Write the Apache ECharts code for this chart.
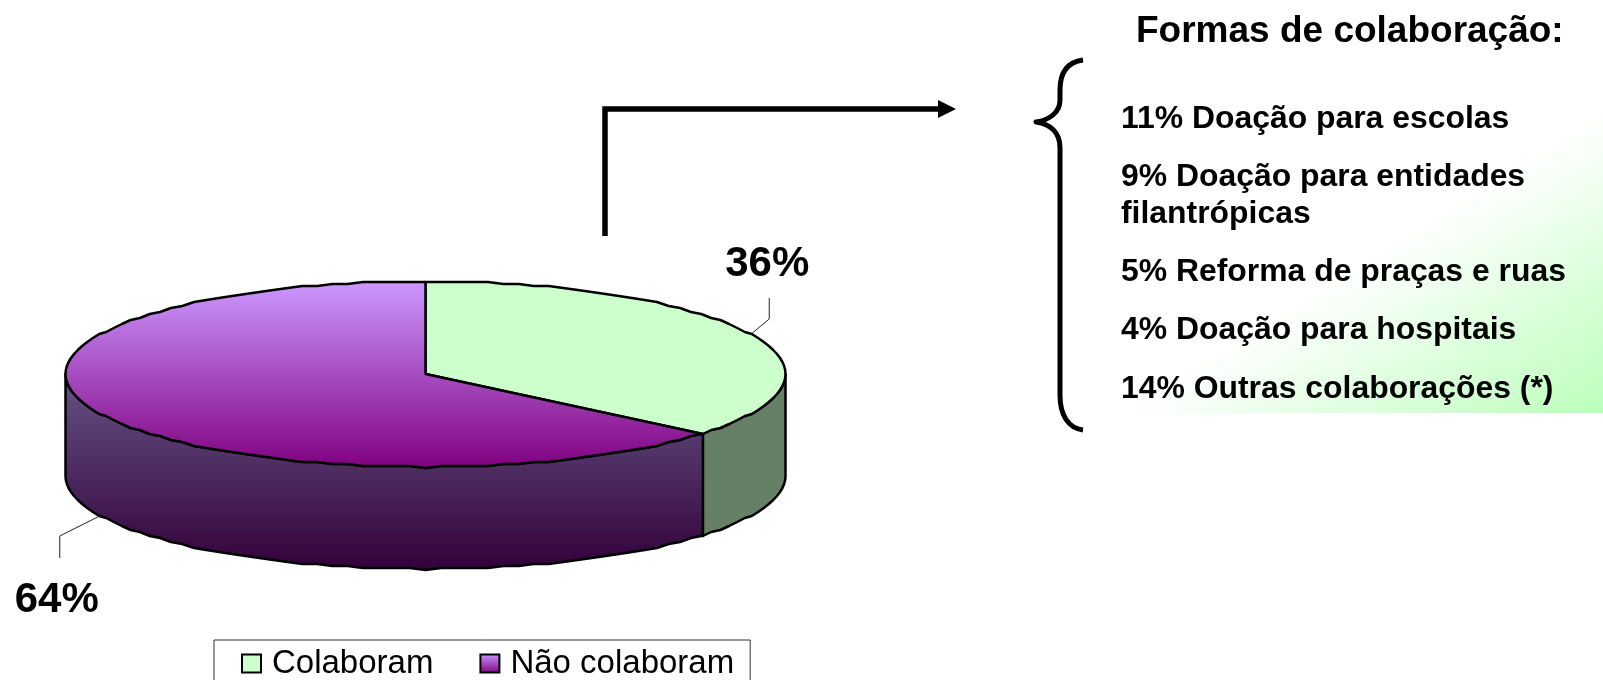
<!DOCTYPE html>
<html>
<head>
<meta charset="utf-8">
<title>Formas de colaboração</title>
<script src="https://cdn.jsdelivr.net/npm/echarts@6/dist/echarts.min.js"></script>
<style>
  html, body { margin: 0; padding: 0; background: #fff; }
  #chart { width: 1603px; height: 680px; }
</style>
</head>
<body>
<div id="chart"></div>
<script>
const categorias = ["Colaboram", "Não colaboram"];
const valores = [36, 64];
const formasPct = [11, 9, 5, 4, 14];
const formasTexto = [
  "Doação para escolas",
  "Doação para entidades\nfilantrópicas",
  "Reforma de praças e ruas",
  "Doação para hospitais",
  "Outras colaborações (*)"
];
const formasTopo = [101, 159, 254, 312, 371];
const tituloFormas = "Formas de colaboração:";

const FONT = '"Liberation Sans", Arial, sans-serif';
const cx = 425.5, cy = 374, rx = 360, ry = 93, depth = 102;
const total = valores[0] + valores[1];

const topPurple = [{ offset: 0, color: "#CC99FF" }, { offset: 1, color: "#800080" }];
const wallPurple = [{ offset: 0, color: "#665585" }, { offset: 1, color: "#33003A" }];
const grad = (stops) => new echarts.graphic.LinearGradient(0, 0, 0, 1, stops);

// angulo medido a partir do topo, sentido horario
const ponto = (deg, dy = 0) => {
  const a = (deg * Math.PI) / 180;
  const x = cx + rx * Math.sin(a);
  const y = cy - ry * Math.cos(a);
  // contorno levemente serrilhado, preso a uma grade de 2px
  return [x, Math.round(y / 2) * 2 + dy];
};

// passo fixo de angulo para a fatia e a parede terem o mesmo contorno
const PASSO = 2.5;
const arco = (from, to, dy = 0) => {
  const sobe = to > from;
  const lo = Math.min(from, to), hi = Math.max(from, to);
  const angs = [lo];
  for (let d = Math.ceil(lo / PASSO) * PASSO; d < hi; d += PASSO) if (d > lo) angs.push(d);
  angs.push(hi);
  if (!sobe) angs.reverse();
  return angs.map((d) => ponto(d, dy));
};

// leader: deslocamentos do cotovelo e do fim da linha em relacao a fatia
const leader = [
  { wall: 0, elbow: [18, -15], end: [18, -36], text: [16, -70] },
  { wall: depth, elbow: [-40, 20], end: [-40, 42], text: [-43, 84] }
];

function renderSlice(idx) {
  return function (params, api) {
    const value = api.value(0);
    const start = idx === 0 ? 0 : (valores[0] / total) * 360;
    const end = start + (value / total) * 360;
    const mid = (start + end) / 2;
    const children = [];

    // parede lateral, so a parte da frente (90 a 270 graus)
    const wa = Math.max(start, 90), wb = Math.min(end, 270);
    if (wb > wa) {
      children.push({
        type: "polygon",
        shape: { points: arco(wa, wb).concat(arco(wb, wa, depth)) },
        style: {
          fill: idx === 0 ? "#668066" : grad(wallPurple),
          stroke: "#000", lineWidth: 2.5, lineJoin: "round"
        }
      });
    }

    // fatia de cima
    children.push({
      type: "polygon",
      shape: { points: [[cx, cy]].concat(arco(start, end)) },
      style: {
        fill: idx === 0 ? "#CCFFCC" : grad(topPurple),
        stroke: "#000", lineWidth: 2.5, lineJoin: "round"
      }
    });

    const l = leader[idx];
    const p = ponto(mid, l.wall);
    children.push({
      type: "polyline",
      shape: { points: [p, [p[0] + l.elbow[0], p[1] + l.elbow[1]], [p[0] + l.end[0], p[1] + l.end[1]]] },
      style: { fill: null, stroke: "#222", lineWidth: 1 }
    });
    children.push({
      type: "text",
      x: p[0] + l.text[0],
      y: p[1] + l.text[1],
      style: {
        text: value + "%", fill: "#000",
        font: "bold 42px " + FONT,
        textAlign: "center", textVerticalAlign: "middle"
      }
    });
    return { type: "group", children };
  };
}

// a chave nao e aceita como path no componente graphic
function renderChave() {
  return {
    type: "path",
    shape: {
      pathData: "M1083 60 C1068 62 1060 72 1060 90 L1060 100 C1060 112 1050 120 1036 122 C1050 124 1060 132 1060 148 L1060 395 C1060 415 1068 428 1083 430",
      x: 1036, y: 58, width: 47, height: 374
    },
    style: { fill: null, stroke: "#000", lineWidth: 5, lineJoin: "round" }
  };
}

const chart = echarts.init(document.getElementById("chart"), null, { renderer: "canvas" });

const formasGraphic = formasPct.map((pct, i) => ({
  type: "text",
  x: 1121,
  y: formasTopo[i],
  z: 5,
  style: {
    text: pct + "% " + formasTexto[i],
    fill: "#000",
    font: "bold 31.9px " + FONT,
    lineHeight: 37
  }
}));

const series = categorias.map((name, i) => ({
  name,
  type: "custom",
  coordinateSystem: "none",
  renderItem: renderSlice(i),
  itemStyle: { color: i === 0 ? "#CCFFCC" : "#800080" },
  data: [[valores[i]]],
  silent: true
}));
series.push({
  name: "chave",
  type: "custom",
  coordinateSystem: "none",
  renderItem: renderChave,
  data: [[0]],
  silent: true
});

chart.setOption({
  animation: false,
  backgroundColor: "#fff",
  legend: {
    left: 214,
    top: 640,
    padding: [7, 16, 50, 27],
    borderColor: "#333",
    borderWidth: 1,
    itemWidth: 19,
    itemHeight: 18,
    itemGap: 46,
    selectedMode: false,
    textStyle: { fontFamily: FONT, fontSize: 33, color: "#000", padding: [0, 0, 0, 6] },
    data: [
      { name: categorias[0], icon: "rect", itemStyle: { color: "#CCFFCC", borderColor: "#000", borderWidth: 2 } },
      { name: categorias[1], icon: "rect", itemStyle: { color: grad(topPurple), borderColor: "#000", borderWidth: 2 } }
    ]
  },
  graphic: [
    {
      type: "rect",
      z: 0,
      shape: { x: 1110, y: 100, width: 493, height: 313 },
      style: {
        // direcao global para a faixa branca ir da direita-alto a esquerda-baixo
        fill: new echarts.graphic.LinearGradient(1467, 195, 1603, 413, [
          { offset: 0, color: "#FFFFFF" },
          { offset: 1, color: "#BBFFBB" }
        ], true)
      }
    },
    {
      type: "text",
      x: 1136,
      y: 13,
      z: 5,
      style: { text: tituloFormas, fill: "#000", font: "bold 37px " + FONT }
    },
    ...formasGraphic,
    {
      // seta
      type: "polyline",
      z: 5,
      shape: { points: [[605, 236], [605, 109], [940, 109]] },
      style: { fill: null, stroke: "#000", lineWidth: 5.5 }
    },
    {
      type: "polygon",
      z: 5,
      shape: { points: [[938, 100], [956, 109], [938, 118]] },
      style: { fill: "#000" }
    }
  ],
  series
});
</script>
</body>
</html>
